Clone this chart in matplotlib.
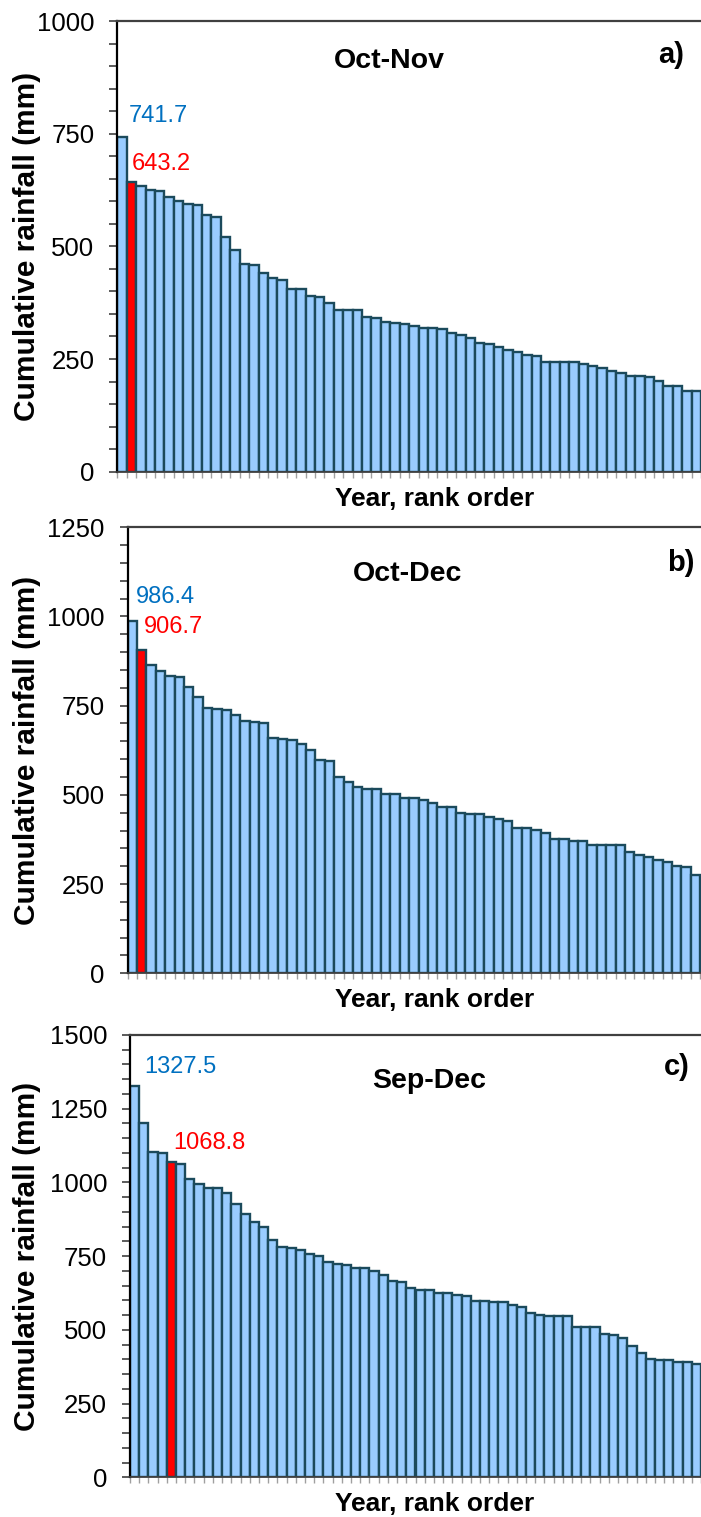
import numpy as np
import matplotlib.pyplot as plt

plt.rcParams['font.family'] = ['Liberation Sans', 'DejaVu Sans']

# seasonal rainfall totals, sorted from wettest to driest year
oct_nov = [741.7, 643.2, 633, 624, 622, 609, 600, 595, 592, 569, 566, 521, 493, 461, 458,
           440, 429, 425, 405, 405, 389, 387, 375, 358, 358, 358, 344, 341, 332, 329,
           327, 323, 319, 319, 317, 307, 304, 297, 285, 283, 277, 271, 266, 260, 257,
           244, 244, 244, 244, 240, 235, 231, 224, 218, 212, 212, 210, 201, 190, 190,
           180, 180]
oct_dec = [986.4, 906.7, 865, 848, 833, 829, 802, 773, 743, 740, 737, 725, 707, 704, 700,
           658, 656, 653, 642, 626, 599, 596, 551, 536, 521, 517, 517, 502, 502, 491,
           490, 486, 476, 467, 467, 448, 446, 446, 437, 432, 428, 406, 406, 401, 394,
           377, 377, 371, 371, 359, 359, 359, 359, 341, 332, 327, 318, 311, 301, 297,
           276]
sep_dec = [1327.5, 1202, 1103, 1100, 1068.8, 1064, 1011, 993, 982, 982, 964, 926, 893, 867,
           849, 804, 782, 779, 771, 756, 749, 731, 725, 721, 710, 710, 700, 685, 667,
           664, 641, 634, 634, 626, 626, 619, 616, 598, 598, 595, 595, 586, 577, 558,
           549, 546, 546, 546, 509, 509, 509, 486, 482, 474, 445, 421, 402, 399, 399,
           390, 390, 383]

series = [oct_nov, oct_dec, sep_dec]
titles = ['Oct-Nov', 'Oct-Dec', 'Sep-Dec']
letters = ['a)', 'b)', 'c)']
highlight = [1, 1, 4]          # the year shown in red
ymax = [1000, 1250, 1500]

W, H = 701, 1517
fig = plt.figure(figsize=(W / 100, H / 100), dpi=100)

# panel boxes in pixels: left edge, zero line, top line
boxes = [(117.3, 471.7, 21.0), (127.7, 973.3, 527.2), (130.0, 1477.3, 1035.0)]
xright = [60.92, 60.6, 60.83]
title_pos = [(0.4655, 0.911), (0.488, 0.895), (0.5245, 0.896)]
letter_pos = [(671, 55), (681, 563), (677, 1067)]
# pixel offsets of the max / highlighted value labels
offs = [((11, 21), (5, 18)), ((8, 24), (7, 23)), ((14, 19), (6, 19))]

for k, vals in enumerate(series):
    left, base, top = boxes[k]
    ax = fig.add_axes([left / W, (H - base) / H, (W - left) / W, (base - top) / H])
    n = len(vals)
    x = np.arange(n)
    colors = ['#99ccff'] * n
    colors[highlight[k]] = '#ff0000'
    ax.bar(x, vals, width=1.0, color=colors, edgecolor='#1b4a5c', linewidth=1.7)

    ax.set_xlim(-0.5, xright[k])
    ax.set_ylim(0, ymax[k])
    ax.set_yticks(np.arange(0, ymax[k] + 1, 250))
    ax.set_yticks(np.arange(0, ymax[k] + 1, 50), minor=True)
    ax.set_xticks(np.arange(-0.5, n + 0.5, 1.0))
    ax.tick_params(axis='x', which='major', direction='out', length=4, width=1,
                   color='#a0a0a0', labelbottom=False)
    ax.tick_params(axis='y', which='both', direction='out', length=5.5, width=1.2,
                   color='#404040', pad=11)
    ax.tick_params(axis='y', which='major', labelsize=18.5)

    ax.spines['right'].set_visible(False)
    ax.spines['top'].set_color('#404040')
    ax.spines['top'].set_linewidth(1.6)
    ax.spines['left'].set_color('black')
    ax.spines['left'].set_linewidth(1.6)
    ax.spines['bottom'].set_color('#404040')
    ax.spines['bottom'].set_linewidth(1.3)

    hi = highlight[k]
    (bx, by), (rx, ry) = offs[k]
    ax.annotate(f'{vals[0]:.1f}', xy=(-0.5, vals[0]), xytext=(bx, by),
                textcoords='offset pixels', ha='left', va='center',
                color='#0070c0', fontsize=17)
    ax.annotate(f'{vals[hi]:.1f}', xy=(hi - 0.5, vals[hi]), xytext=(rx, ry),
                textcoords='offset pixels', ha='left', va='center',
                color='#ff0000', fontsize=17)

    ax.text(title_pos[k][0], title_pos[k][1], titles[k], transform=ax.transAxes,
            ha='center', va='center', fontsize=20.5, fontweight='bold')
    fig.text(letter_pos[k][0] / W, 1 - letter_pos[k][1] / H, letters[k],
             ha='center', va='center', fontsize=21, fontweight='bold')
    fig.text(27.5 / W, 1 - (base + top) / 2 / H, 'Cumulative rainfall (mm)',
             rotation=90, ha='center', va='center', fontsize=21.5, fontweight='bold')
    fig.text(435 / W, 1 - (base + 27) / H, 'Year, rank order',
             ha='center', va='center', fontsize=19, fontweight='bold')

fig.savefig('out.png', dpi=100)
